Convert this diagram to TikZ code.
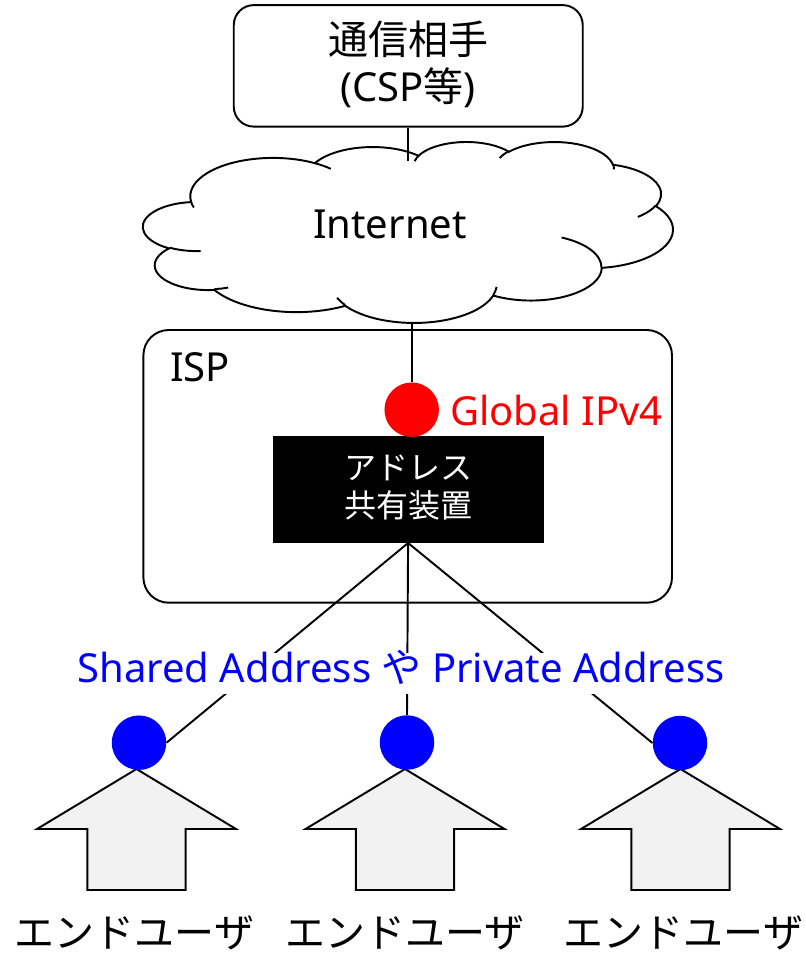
\documentclass[tikz,border=0pt]{standalone}
\usepackage{fontspec}
\setmainfont{Noto Sans}
\newfontfamily\jp{Noto Sans CJK JP}
\def\pxu{*0.75pt}
\tikzset{
  carc/.style n args={4}{insert path={
    arc[x radius=#1, y radius=#2,
        start angle={atan2((#1)*sin(#3),(#2)*cos(#3))},
        delta angle={mod(atan2((#1)*sin((#3)+(#4)),(#2)*cos((#3)+(#4)))-atan2((#1)*sin(#3),(#2)*cos(#3))+720,360)}]}},
  ln/.style={line width=1.45pt, draw=black},
  bigtxt/.style={font=\fontsize{30}{36}\selectfont, inner sep=0pt},
  nattxt/.style={font=\fontsize{24}{29}\selectfont\jp, text=white, inner sep=0pt},
  dot/.style={circle, inner sep=0pt, minimum size=54.5\pxu},
  userarrow/.style={line width=1.45pt, draw=black, fill=black!5},
}
\begin{document}
\begin{tikzpicture}[x=0.75pt, y=-0.75pt]
\useasboundingbox (0,0) rectangle (806,957);

% ISP box
\node[ln, rounded corners=19pt, fill=white, minimum width=528.6\pxu, minimum height=272.7\pxu] (isp) at (407.7,466.35) {};
\node[bigtxt, anchor=base west] (isplbl) at (170,381) {ISP};

% top box
\node[ln, rounded corners=15pt, fill=white, minimum width=349\pxu, minimum height=121.5\pxu] (csp) at (408.25,65.85) {};
\node[bigtxt, anchor=base] (cspA) at (408.25,54) {\jp 通信相手};
\node[bigtxt, anchor=base] (cspB) at (408.25,101) {(CSP{\jp 等})};

% cloud
\begin{scope}[shift={(143.2,141.4)}, x=0.91944pt, y=-0.31406pt]
\draw[ln, fill=white] (39.00,143.70)
  [carc={67.53}{91.90}{-190.4875}{123.7805}]
  [carc={53.33}{72.67}{-144.1024}{89.9452}]
  [carc={43.65}{59.45}{-145.8079}{99.7230}]
  [carc={48.57}{65.95}{-130.9861}{117.2417}]
  [carc={53.33}{72.73}{-78.7089}{109.0269}]
  [carc={67.75}{92.20}{-46.2673}{130.2690}]
  [carc={57.85}{78.67}{0.6250}{114.0333}]
  [carc={67.52}{92.15}{22.4516}{115.1726}]
  [carc={77.20}{105.43}{66.2426}{75.7110}]
  [carc={43.60}{59.18}{-274.9421}{146.7356}]
  [carc={43.45}{59.45}{-246.8285}{152.5189}] -- cycle;
\draw[ln] (46.93,261.77) [carc={43.45}{59.45}{86.742}{26.4295}];
\draw[ln] (69.28,348.99) [carc={43.60}{59.18}{73.6105}{11.4475}];
\draw[ln] (164.78,390.90) [carc={67.52}{92.15}{137.6242}{14.0811}];
\draw[ln] (288.27,347.51) [carc={67.52}{92.15}{6.4533}{15.9984}];
\draw[ln] (341.29,229.54) [carc={57.85}{78.67}{-70.2924}{70.9174}];
\draw[ln] (417.98,153.54) [carc={53.33}{72.73}{30.3180}{27.7515}];
\draw[ln] (383.24,54.26) [carc={48.57}{65.95}{-13.7443}{14.8660}];
\draw[ln] (290.78,39.52) [carc={48.57}{65.95}{-149.1815}{18.1954}];
\draw[ln] (221.41,47.20) [carc={43.65}{59.45}{-163.4943}{17.6864}];
\draw[ln] (140.00,51.92) [carc={67.53}{91.90}{-66.7070}{12.3194}];
\draw[ln] (41.27,157.89) [carc={67.53}{91.90}{157.6544}{11.8582}];
\end{scope}
\node[bigtxt, anchor=base] (inet) at (390,238.3) {Internet};
\coordinate (cloudtop) at (408.25,161);
\coordinate (cloudbot) at (411.7,322.5);

% address sharing device
\node[fill=black, inner sep=0pt, minimum width=271\pxu, minimum height=107\pxu] (nat) at (408.1,489.2) {};
\node[nattxt, anchor=base] (natA) at (408,479.5) {アドレス};
\node[nattxt, anchor=base] (natB) at (408,517.5) {共有装置};

% global address
\node[dot, fill=red] (g) at (411.7,409.7) {};
\node[bigtxt, anchor=base west, text=red] (glbl) at (450,425) {Global IPv4};

% user arrows
\foreach \cx in {136.5,405,680.5}{
  \draw[userarrow] (\cx,769) -- (\cx+99.5,829) -- (\cx+49.2,829) -- (\cx+49.2,890)
     -- (\cx-49.2,890) -- (\cx-49.2,829) -- (\cx-99.5,829) -- cycle;
}
% user address dots
\node[dot, fill=blue] (u1) at (139,742.7) {};
\node[dot, fill=blue] (u2) at (407,742.5) {};
\node[dot, fill=blue] (u3) at (680,743) {};

% connectors
\draw[ln] (csp.south) -- (cloudtop);
\draw[ln] (cloudbot) -- (g.north);
\draw[ln] (nat.south) -- (u1.east);
\draw[ln] (nat.south) -- (u2.north);
\draw[ln] (nat.south) -- (u3.west);

% shared address label
\node[font=\fontsize{30}{36}\selectfont, text=blue, fill=white, inner xsep=2pt, inner ysep=0pt,
      text height=22.5pt, text depth=8.25pt, anchor=base] (addr) at (401,682.7)
      {Shared Address {\jp や} Private Address};

% user labels
\node[bigtxt, anchor=base] (l1) at (134.5,947) {\jp エンドユーザ};
\node[bigtxt, anchor=base] (l2) at (405,947) {\jp エンドユーザ};
\node[bigtxt, anchor=base] (l3) at (683.5,947) {\jp エンドユーザ};
\end{tikzpicture}
\end{document}
